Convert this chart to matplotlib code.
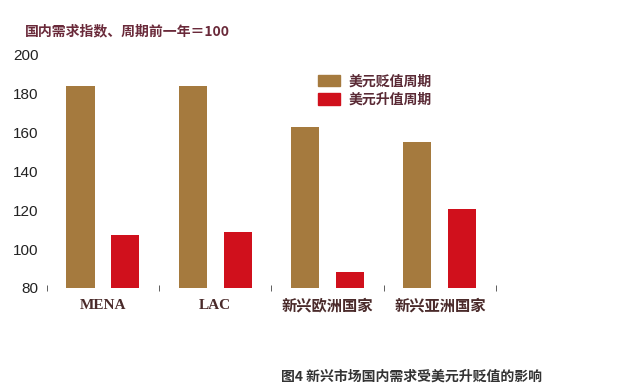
import numpy as np
import matplotlib
matplotlib.use("Agg")
import matplotlib.pyplot as plt
from matplotlib.patches import Patch

plt.rcParams['font.family'] = ['Liberation Serif', 'Noto Sans CJK SC', 'DejaVu Sans']

# data
regions = ["MENA", "LAC", "新兴欧洲国家", "新兴亚洲国家"]
depreciation = [184, 184, 163, 155]   # 美元贬值周期
appreciation = [107, 109, 88, 120.5]  # 美元升值周期
yticks = [80, 100, 120, 140, 160, 180, 200]

brown = "#a57a3e"
red = "#d0101c"

fig = plt.figure(figsize=(6.24, 3.9), dpi=100)
ax = fig.add_axes([0.075, 0.262, 0.72, 0.597])

x = np.arange(len(regions))
w = 0.25
ax.bar(x - 0.2, np.array(depreciation) - 80, w, bottom=80, color=brown)
ax.bar(x + 0.2, np.array(appreciation) - 80, w, bottom=80, color=red)

ax.set_xlim(-0.5, 3.5)
ax.set_ylim(80, 200)
ax.set_yticks(yticks)
ax.set_yticklabels([str(v) for v in yticks], family=['Liberation Sans'], fontsize=11, color="#222222")
ax.tick_params(axis='y', length=0, pad=6)

ax.set_xticks(x)
ax.set_xticklabels(regions, fontsize=11, color="#4a2a2a", fontweight='bold')
ax.tick_params(axis='x', which='major', length=0, pad=8)
ax.set_xticks(np.arange(-0.5, 4, 1), minor=True)
ax.tick_params(axis='x', which='minor', length=5, direction='inout', color="#444444")

for s in ax.spines.values():
    s.set_visible(False)

handles = [Patch(color=brown, label="美元贬值周期"), Patch(color=red, label="美元升值周期")]
leg = ax.legend(handles=handles, loc='upper left', bbox_to_anchor=(0.575, 0.97), frameon=False,
                prop={'family': ['Noto Sans CJK SC'], 'size': 10, 'weight': 'bold'},
                handlelength=1.6, handleheight=0.9, handletextpad=0.6, labelspacing=0.3)
for t in leg.get_texts():
    t.set_color("#5a2a35")

fig.text(0.04, 0.91, "国内需求指数、周期前一年＝100", fontsize=10, fontweight='bold',
         color="#6a2a3a", family=['Noto Sans CJK SC'])
fig.text(0.45, 0.025, "图4 新兴市场国内需求受美元升贬值的影响", fontsize=10, fontweight='bold',
         color="#333333", family=['Noto Sans CJK SC'])

fig.savefig("out.png", dpi=100)
